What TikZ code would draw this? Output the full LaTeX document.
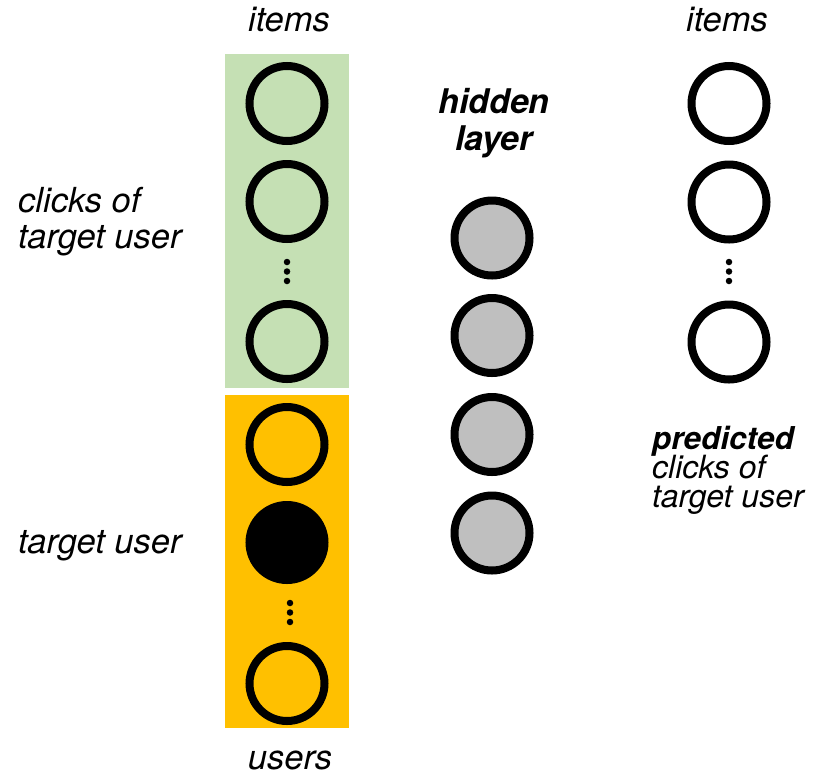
\documentclass[tikz,border=0pt]{standalone}
\usepackage{fontspec}
\setmainfont{TeX Gyre Heros}
\begin{document}
\begin{tikzpicture}[x=1pt,y=-1pt,
  unit/.style={circle,draw=black,line width=8pt,minimum size=75pt,inner sep=0pt},
  dotmark/.style={circle,fill=black,minimum size=6.5pt,inner sep=0pt},
  lbl/.style={inner sep=0pt,font=\fontsize{34.5}{38}\selectfont\itshape},
  lblb/.style={inner sep=0pt,font=\fontsize{34}{38}\selectfont\bfseries\itshape},
  smalllbl/.style={inner sep=0pt,font=\fontsize{32}{34}\selectfont\itshape},
  smalllblb/.style={inner sep=0pt,font=\fontsize{31.5}{34}\selectfont\bfseries\itshape}]
\definecolor{itemgreen}{HTML}{C5E0B4}
\definecolor{useramber}{HTML}{FFC000}
\definecolor{hiddengray}{HTML}{BFBFBF}
\useasboundingbox (0,0) rectangle (821,777);

% input blocks
\fill[itemgreen] (225,54) rectangle (349,388);
\fill[useramber] (225,395) rectangle (349,728);

% input units: item clicks
\node[unit] (i1) at (287,103.5) {};
\node[unit] (i2) at (287,201.5) {};
\node[dotmark] (id1) at (287,262) {};
\node[dotmark] (id2) at (287,271.5) {};
\node[dotmark] (id3) at (287,281) {};
\node[unit] (i3) at (287,341.5) {};

% input units: users
\node[unit] (u1) at (287,444.5) {};
\node[unit,fill=black] (u2) at (287,542.5) {};
\node[dotmark] (ud1) at (290,603) {};
\node[dotmark] (ud2) at (290,612.5) {};
\node[dotmark] (ud3) at (290,622) {};
\node[unit] (u3) at (287,683.5) {};

% hidden layer
\node[unit,fill=hiddengray] (h1) at (492,238) {};
\node[unit,fill=hiddengray] (h2) at (492,335.5) {};
\node[unit,fill=hiddengray] (h3) at (492,434.5) {};
\node[unit,fill=hiddengray] (h4) at (492,533) {};

% output units
\node[unit] (o1) at (729,103.5) {};
\node[unit] (o2) at (729,202) {};
\node[dotmark] (od1) at (729,262) {};
\node[dotmark] (od2) at (729,271.5) {};
\node[dotmark] (od3) at (729,281) {};
\node[unit] (o3) at (729,342) {};

% labels
\node[lbl,anchor=base] (titems) at (289,31) {items};
\node[lbl,anchor=base] (titems2) at (727,31) {items};
\node[lbl,anchor=base] (tusers) at (290,769) {users};
\node[lbl,anchor=base west] (tclick1) at (18,212) {clicks of};
\node[lbl,anchor=base west] (tclick2) at (18,248) {target user};
\node[lbl,anchor=base west] (ttarget) at (18,553) {target user};
\node[lblb,anchor=base] (thid1) at (494,113) {hidden};
\node[lblb,anchor=base] (thid2) at (494,150) {layer};
\node[smalllblb,anchor=base west] (tpred1) at (652,449) {predicted};
\node[smalllbl,anchor=base west] (tpred2) at (652,478) {clicks of};
\node[smalllbl,anchor=base west] (tpred3) at (652,507) {target user};
\end{tikzpicture}
\end{document}
